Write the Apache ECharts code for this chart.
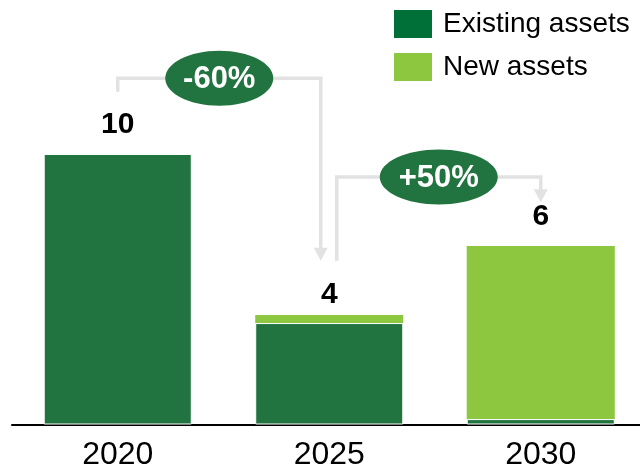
<!DOCTYPE html>
<html><head><meta charset="utf-8">
<script src="https://cdn.jsdelivr.net/npm/echarts@6/dist/echarts.min.js"></script>
<style>html,body{margin:0;padding:0;background:#fff}#c{width:640px;height:471px}</style>
</head><body><div id="c"></div>
<script>
// ---- data ----
const categories = ['2020', '2025', '2030'];
const existingAssets = [10, 3.75, 0.2];
const newAssets = [0, 0.3, 6.4];
const totalLabels = ['10', '4', '6'];
const seriesNames = ['Existing assets', 'New assets'];
const changeLabels = ['-60%', '+50%'];
// bracket annotations (value units): start height, bracket level, arrow tip height
const bracketStart = [12.3, 6.05];
const bracketLevel = [12.8, 9.15];
const bracketEnd = [6.05, 8.22];

const FONT = 'Liberation Sans, Arial, Helvetica, sans-serif';
const DARK = '#21733F';
const LIGHT = '#8DC63F';
const GREY = '#E2E2E2';
const LABEL_DIST = [14, 5, 14];

const chart = echarts.init(document.getElementById('c'), null, {renderer: 'canvas'});
const option = {
  animation: false,
  backgroundColor: '#fff',
  grid: {left: 12, width: 634.5, top: 18.75, bottom: 46.5, containLabel: false, outerBoundsMode: 'none'},
  legend: {
    orient: 'vertical', left: 394, top: 10, padding: 0, itemWidth: 38, itemHeight: 28, itemGap: 15,
    icon: 'rect', selectedMode: false,
    textStyle: {fontFamily: FONT, fontSize: 28, color: '#000', padding: [0, 0, 0, 6]},
    data: [
      {name: seriesNames[0], itemStyle: {color: '#006F38', borderWidth: 0}},
      {name: seriesNames[1], itemStyle: {color: LIGHT, borderWidth: 0}}
    ]
  },
  xAxis: {
    type: 'category', data: categories,
    axisLine: {show: true, lineStyle: {color: '#000', width: 2}},
    axisTick: {show: false},
    axisLabel: {fontFamily: FONT, fontSize: 32, color: '#000', margin: 15}
  },
  yAxis: {type: 'value', min: 0, max: 15, show: false, splitLine: {show: false}},
  series: [
    {name: seriesNames[0], type: 'bar', stack: 'a', data: existingAssets, barWidth: '70%',
     itemStyle: {color: DARK, borderColor: '#fff', borderWidth: 1}},
    {name: seriesNames[1], type: 'bar', stack: 'a', barWidth: '70%',
     data: newAssets.map((v, i) => ({value: v, label: {distance: LABEL_DIST[i]}})),
     itemStyle: {color: LIGHT},
     label: {show: true, position: 'top', fontFamily: FONT, fontSize: 30,
             fontWeight: 'bold', color: '#000',
             formatter: p => totalLabels[p.dataIndex]}}
  ]
};
chart.setOption(option);

// annotations positioned through the chart's own scales
const px = (ci, v) => chart.convertToPixel({gridIndex: 0}, [ci, v]);
const elements = [];
const startOffset = [0, 7.5];
const endOffset = [-8.5, 0];
const ellipseRx = [54, 59];
changeLabels.forEach((txt, i) => {
  const s = px(i, bracketStart[i]);
  const l = px(i, bracketLevel[i]);
  const e = px(i + 1, bracketEnd[i]);
  const x1 = s[0] + startOffset[i];
  const x2 = e[0] + endOffset[i];
  const yl = l[1];
  const tip = e[1];
  const ah = 13, aw = 7;
  elements.push({
    type: 'polyline', silent: true,
    shape: {points: [[x1, s[1]], [x1, yl], [x2, yl], [x2, tip - ah + 1]]},
    style: {stroke: GREY, lineWidth: 3.5, fill: null}
  });
  elements.push({
    type: 'polygon', silent: true,
    shape: {points: [[x2 - aw, tip - ah], [x2 + aw, tip - ah], [x2, tip]]},
    style: {fill: GREY}
  });
  const cx = (x1 + x2) / 2;
  elements.push({
    type: 'ellipse', silent: true,
    shape: {cx: cx, cy: yl, rx: ellipseRx[i], ry: 27.5},
    style: {fill: DARK}
  });
  elements.push({
    type: 'text', silent: true, x: cx, y: yl + 1,
    style: {text: txt, fill: '#fff', font: 'bold 31px ' + FONT, align: 'center', verticalAlign: 'middle'}
  });
});
chart.setOption({graphic: {elements: elements}});
</script>
</body></html>
